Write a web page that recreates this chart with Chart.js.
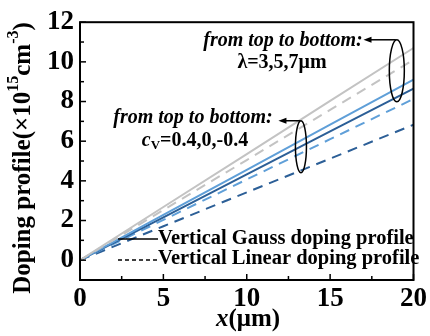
<!DOCTYPE html>
<html>
<head>
<meta charset="utf-8">
<script src="https://cdn.jsdelivr.net/npm/chart.js@4.4.1/dist/chart.umd.min.js"></script>
<style>
    html, body { margin: 0; padding: 0; background: #fff; }
    #wrap { width: 430px; height: 336px; position: relative; }
</style>
</head>
<body>
<div id="wrap"><canvas id="dopingChart"></canvas></div>
<script>
// Data (doping in 1e15 cm^-3 against x in um)
const xValues = [0, 5, 10, 15, 20];
const graySolid = [0, 2.68, 5.35, 8.03, 10.7];
const grayDashed = [0, 2.53, 5.05, 7.58, 10.1];
const lightSolid = [0, 2.28, 4.55, 6.83, 9.1];
const darkSolid = [0, 2.16, 4.33, 6.49, 8.65];
const lightDashed = [0, 2.03, 4.07, 6.1, 8.13];
const darkDashed = [0, 1.71, 3.42, 5.12, 6.83];
const xTicks = [0, 5, 10, 15, 20];
const yTicks = [0, 2, 4, 6, 8, 10, 12];

const serif = "'Liberation Serif', 'Times New Roman', serif";
const gray = "#c3c3c3";
const lightBlue = "#5f9fd8";
const darkBlue = "#2c5f97";

function pts(ys) {
    return xValues.map((x, i) => ({ x: x, y: ys[i] }));
}

function series(label, ys, color, dashed) {
    return {
        label: label,
        data: pts(ys),
        borderColor: color,
        borderWidth: 2,
        borderDash: dashed ? [10, 7] : [],
        pointRadius: 0,
        fill: false,
        tension: 0
    };
}

// Frame, inward ticks, annotations, legend and axis titles
const decorations = {
    id: "decorations",
    afterDraw(chart) {
        const ctx = chart.ctx;
        const xs = chart.scales.x;
        const ys = chart.scales.y;
        const a = chart.chartArea;
        ctx.save();

        // frame
        ctx.strokeStyle = "#000";
        ctx.lineWidth = 2;
        ctx.strokeRect(a.left, a.top, a.right - a.left, a.bottom - a.top);

        // inward ticks
        ctx.lineWidth = 1.5;
        for (let v = 0; v <= 20; v += 2.5) {
            const px = xs.getPixelForValue(v);
            ctx.beginPath();
            ctx.moveTo(px, a.bottom);
            ctx.lineTo(px, a.bottom - (v % 5 === 0 ? 6 : 4));
            ctx.stroke();
        }
        for (let v = 0; v <= 12; v += 1) {
            const py = ys.getPixelForValue(v);
            ctx.beginPath();
            ctx.moveTo(a.left, py);
            ctx.lineTo(a.left + (v % 2 === 0 ? 6 : 4), py);
            ctx.stroke();
        }

        // annotation texts
        ctx.fillStyle = "#000";
        ctx.textAlign = "center";
        ctx.textBaseline = "middle";
        ctx.font = "italic bold 20px " + serif;
        ctx.fillText("from top to bottom:", 283, 41);
        ctx.fillText("from top to bottom:", 193, 118);
        ctx.font = "bold 20px " + serif;
        ctx.fillText("λ=3,5,7μm", 282, 63);
        const cx = 195;
        const cy = 141;
        ctx.textAlign = "left";
        ctx.font = "italic bold 20px " + serif;
        const cw = ctx.measureText("c").width;
        ctx.font = "bold 13px " + serif;
        const vw = ctx.measureText("V").width;
        ctx.font = "bold 20px " + serif;
        const rest = "=0.4,0,-0.4";
        const rw = ctx.measureText(rest).width;
        let sx = cx - (cw + vw + rw) / 2;
        ctx.font = "italic bold 20px " + serif;
        ctx.fillText("c", sx, cy);
        ctx.font = "bold 13px " + serif;
        ctx.fillText("V", sx + cw, cy + 5);
        ctx.font = "bold 20px " + serif;
        ctx.fillText(rest, sx + cw + vw, cy);

        // ellipses with arrows
        ctx.lineWidth = 1.5;
        function marker(ex, ey, rx, ry, arrowTo) {
            const px = xs.getPixelForValue(ex);
            const py = ys.getPixelForValue(ey);
            ctx.beginPath();
            ctx.ellipse(px, py, rx, ry, 0, 0, Math.PI * 2);
            ctx.stroke();
            const topY = py - ry;
            const endX = xs.getPixelForValue(arrowTo);
            ctx.beginPath();
            ctx.moveTo(px - 1, topY);
            ctx.lineTo(endX + 4, topY);
            ctx.stroke();
            ctx.beginPath();
            ctx.moveTo(endX, topY);
            ctx.lineTo(endX + 8, topY - 3);
            ctx.lineTo(endX + 8, topY + 3);
            ctx.closePath();
            ctx.fill();
        }
        marker(19.0, 9.55, 7.5, 31, 17.0);
        marker(13.25, 5.72, 5.5, 26, 11.9);

        // legend
        ctx.font = "bold 20.5px " + serif;
        ctx.textAlign = "left";
        ctx.lineWidth = 1.5;
        const lx0 = 118, lx1 = 158;
        ctx.beginPath();
        ctx.moveTo(lx0, 239);
        ctx.lineTo(lx1, 239);
        ctx.stroke();
        ctx.setLineDash([4, 3]);
        ctx.beginPath();
        ctx.moveTo(lx0, 260);
        ctx.lineTo(lx1, 260);
        ctx.stroke();
        ctx.setLineDash([]);
        ctx.fillText("Vertical Gauss doping profile", lx1, 239);
        ctx.fillText("Vertical Linear doping profile", lx1, 259);

        // x title
        ctx.font = "italic bold 25px " + serif;
        const xw = ctx.measureText("x").width;
        ctx.font = "bold 25px " + serif;
        const uw = ctx.measureText("(μm)").width;
        let tx = 248 - (xw + uw) / 2;
        ctx.font = "italic bold 25px " + serif;
        ctx.fillText("x", tx, 320);
        ctx.font = "bold 25px " + serif;
        ctx.fillText("(μm)", tx + xw, 320);

        // y title, rotated, with superscripts
        ctx.translate(24, 158);
        ctx.rotate(-Math.PI / 2);
        const parts = [
            ["Doping profile(×10", 25, 0],
            ["15", 16, -10],
            ["cm", 25, 0],
            ["-3", 16, -10],
            [")", 25, 0]
        ];
        let total = 0;
        parts.forEach(p => {
            ctx.font = "bold " + p[1] + "px " + serif;
            total += ctx.measureText(p[0]).width;
        });
        let px = -total / 2;
        parts.forEach(p => {
            ctx.font = "bold " + p[1] + "px " + serif;
            ctx.fillText(p[0], px, p[2]);
            px += ctx.measureText(p[0]).width;
        });
        ctx.restore();
    }
};

new Chart(document.getElementById("dopingChart"), {
    type: "line",
    data: {
        datasets: [
            series("gray solid", graySolid, gray, false),
            series("gray dashed", grayDashed, gray, true),
            series("light solid", lightSolid, lightBlue, false),
            series("dark solid", darkSolid, darkBlue, false),
            series("light dashed", lightDashed, lightBlue, true),
            series("dark dashed", darkDashed, darkBlue, true)
        ]
    },
    options: {
        responsive: true,
        maintainAspectRatio: false,
        animation: false,
        layout: { padding: { top: 19, right: 11, left: 0, bottom: 0 } },
        plugins: {
            legend: { display: false },
            tooltip: { enabled: false }
        },
        scales: {
            x: {
                type: "linear",
                min: 0,
                max: 20,
                afterBuildTicks: s => { s.ticks = xTicks.map(v => ({ value: v })); },
                afterFit: s => { s.height = 56; },
                grid: { display: false, drawTicks: false },
                border: { display: false },
                ticks: {
                    color: "#000",
                    padding: 3,
                    maxRotation: 0,
                    font: { family: serif, size: 27, weight: "bold" }
                }
            },
            y: {
                type: "linear",
                min: -1,
                max: 12,
                afterBuildTicks: s => { s.ticks = yTicks.map(v => ({ value: v })); },
                afterFit: s => { s.width = 80; },
                grid: { display: false, drawTicks: false },
                border: { display: false },
                ticks: {
                    color: "#000",
                    padding: 6,
                    font: { family: serif, size: 27, weight: "bold" }
                }
            }
        }
    },
    plugins: [decorations]
});
</script>
</body>
</html>
